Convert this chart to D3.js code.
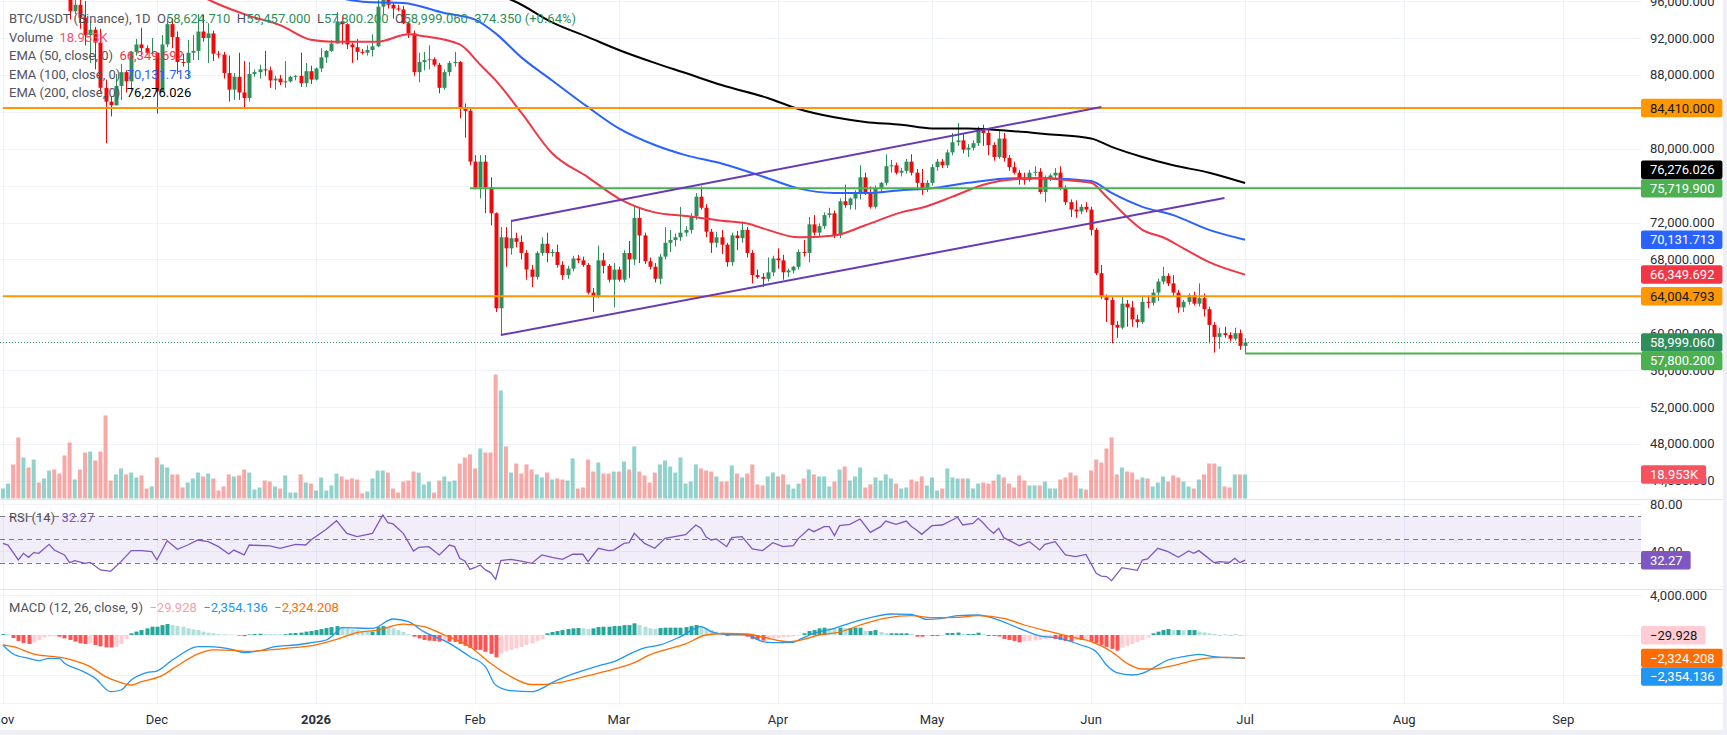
<!DOCTYPE html>
<html><head><meta charset="utf-8">
<script src="https://cdn.jsdelivr.net/npm/d3@7"></script>
<style>
html,body{margin:0;padding:0;background:#fff;overflow:hidden;}
svg{display:block;font-family:Roboto,"Noto Sans",Arial,sans-serif;}
text{white-space:pre;}
</style></head><body>
<svg id="chart" width="1727" height="735"></svg>
<script>
// ===================== DATA =====================
const symbolTitle = "BTC/USDT (Binance), 1D";
const firstDay = "2025-11-01";   // one candle per day from here
// daily candles [open, high, low, close] in thousands of USDT
const candlesNov = [[109.6,110.6,109.4,110.1],[110.1,111.2,109.0,110.6],[110.6,110.8,105.3,106.5],[106.5,107.3,98.9,101.5],[101.5,104.5,98.9,103.9],[103.9,104.2,100.3,101.3],[101.3,104.0,99.2,103.3],[103.3,103.4,101.4,102.3],[102.3,105.0,101.3,104.7],[104.7,106.7,104.3,106.0],[106.0,107.5,102.5,103.0],[103.0,105.3,100.8,101.6],[101.6,104.0,98.0,99.7],[99.7,99.9,94.0,94.9],[94.9,96.9,94.6,95.6],[95.6,96.6,93.0,94.2],[94.2,96.0,91.2,92.3],[92.3,93.8,89.3,92.9],[92.9,93.2,88.6,91.5],[91.5,93.0,86.1,86.6],[86.6,87.5,80.6,85.1],[85.1,85.6,83.5,84.7],[84.7,88.1,84.7,86.8],[86.8,89.2,85.3,88.3],[88.3,88.5,86.1,87.3],[87.3,90.6,86.3,90.5],[90.5,91.9,90.1,91.3],[91.3,93.1,90.2,90.9],[90.9,91.2,90.2,90.4],[90.4,92.0,90.3,90.4]];
const candlesDec = [[90.4,90.4,83.8,86.2],[86.2,92.3,86.2,91.3],[91.3,94.1,91.0,93.5],[93.5,94.1,90.9,92.1],[92.1,92.7,88.1,89.4],[89.4,90.3,88.9,89.3],[89.3,91.8,87.7,90.4],[90.4,92.3,89.6,90.6],[90.6,94.6,89.6,92.7],[92.7,94.5,91.6,92.0],[92.0,93.6,89.3,92.5],[92.5,92.8,89.5,90.3],[90.3,90.6,89.8,90.2],[90.2,90.5,87.6,88.2],[88.2,90.1,85.1,86.4],[86.4,88.2,85.3,87.8],[87.8,90.4,85.3,86.1],[86.1,89.5,84.4,85.5],[85.5,89.4,85.1,88.1],[88.1,88.6,87.8,88.3],[88.3,89.1,87.6,88.6],[88.6,90.6,87.9,88.5],[88.5,88.9,86.6,87.4],[87.4,87.9,86.4,87.6],[87.6,88.0,86.9,87.2],[87.2,89.5,86.6,87.3],[87.3,87.9,87.2,87.8],[87.8,88.0,87.4,87.9],[87.9,90.4,86.7,87.1],[87.1,89.3,86.7,88.4],[88.4,89.0,87.0,87.5]];
const candlesJan = [[87.5,88.8,87.4,88.7],[88.7,90.9,88.3,89.9],[89.9,90.7,89.3,90.6],[90.6,91.8,90.5,91.4],[91.4,94.8,91.4,93.8],[93.8,94.4,91.3,93.5],[93.5,93.6,90.8,91.3],[91.3,91.5,89.3,91.0],[91.0,91.9,89.6,90.5],[90.5,90.8,90.2,90.4],[90.4,91.2,90.1,90.7],[90.7,92.4,90.0,91.1],[91.1,96.4,91.0,95.4],[95.4,97.9,94.5,97.0],[97.0,97.6,95.2,95.6],[95.6,95.9,94.1,95.2],[95.2,95.6,94.9,95.1],[95.1,95.5,93.5,93.6],[93.6,93.8,92.0,92.5],[92.5,92.8,87.9,88.3],[88.3,90.4,87.2,89.4],[89.4,90.5,88.5,89.6],[89.6,91.2,88.6,89.7],[89.7,89.9,88.9,89.1],[89.1,89.3,86.0,86.6],[86.6,88.6,86.4,88.3],[88.3,89.5,87.9,89.3],[89.3,90.5,88.9,89.4],[89.4,89.5,83.3,84.4],[84.4,84.9,81.2,84.1],[84.1,84.4,78.2,78.6]];
const candlesFeb = [[78.6,79.3,75.6,75.8],[75.8,79.3,74.6,78.6],[78.6,79.3,73.0,75.8],[75.8,76.9,71.7,73.0],[73.0,73.1,62.3,62.7],[62.7,71.5,59.8,70.4],[70.4,71.5,67.2,69.2],[69.2,72.3,68.5,70.3],[70.3,70.9,69.3,69.9],[69.9,70.6,68.0,68.7],[68.7,69.0,65.8,66.9],[66.9,67.4,65.0,66.1],[66.1,68.9,65.8,68.7],[68.7,70.4,68.4,69.7],[69.7,70.9,67.7,68.7],[68.7,69.1,68.3,68.8],[68.8,69.6,67.1,67.4],[67.4,67.8,65.8,66.3],[66.3,67.3,65.9,67.0],[67.0,68.4,66.7,68.1],[68.1,68.5,67.6,67.9],[67.9,68.3,67.2,67.4],[67.4,67.6,64.2,64.4],[64.4,64.9,62.3,64.0],[64.0,69.5,63.8,67.9],[67.9,68.7,66.5,67.3],[67.3,67.5,65.5,65.8],[65.8,67.6,62.8,66.9]];
const candlesMar = [[66.9,67.2,65.6,65.8],[65.8,69.0,65.5,68.7],[68.7,70.0,66.0,68.0],[68.0,73.9,67.4,72.5],[72.5,73.6,67.6,70.6],[70.6,70.9,67.5,67.8],[67.8,68.2,66.9,67.2],[67.2,67.6,65.5,65.9],[65.9,68.6,65.3,68.3],[68.3,71.5,68.0,69.8],[69.8,71.2,68.8,70.1],[70.1,70.8,69.4,70.4],[70.4,73.7,70.0,70.9],[70.9,71.6,70.5,71.2],[71.2,73.0,70.8,72.7],[72.7,75.2,72.3,74.8],[74.8,75.9,73.4,73.6],[73.6,74.0,70.4,71.0],[71.0,71.3,68.7,69.8],[69.8,71.0,69.3,70.4],[70.4,71.2,68.6,69.6],[69.6,69.8,67.2,67.7],[67.7,70.9,67.3,70.6],[70.6,71.1,69.0,70.3],[70.3,72.1,69.8,71.2],[71.2,71.5,68.2,68.7],[68.7,69.0,65.4,66.3],[66.3,66.9,65.9,66.1],[66.1,66.5,65.0,65.9],[65.9,68.2,65.6,66.6],[66.6,68.4,66.2,68.1]];
const candlesApr = [[68.1,69.2,67.0,67.9],[67.9,68.5,65.8,66.6],[66.6,67.0,66.1,66.8],[66.8,67.3,66.5,67.2],[67.2,69.1,66.9,68.8],[68.8,70.1,68.3,68.7],[68.7,72.6,67.7,71.8],[71.8,72.8,70.6,70.9],[70.9,71.9,70.4,71.6],[71.6,73.1,71.3,72.8],[72.8,73.6,72.5,73.0],[73.0,73.3,70.3,70.6],[70.6,74.6,70.3,74.3],[74.3,76.1,73.6,73.9],[73.9,74.7,73.4,74.6],[74.6,75.5,73.4,75.3],[75.3,78.2,74.5,76.9],[76.9,77.4,75.0,75.3],[75.3,75.9,73.5,73.7],[73.7,76.0,73.5,75.7],[75.7,76.4,75.3,76.3],[76.3,79.4,76.0,78.1],[78.1,78.8,77.4,78.2],[78.2,78.5,77.2,77.4],[77.4,77.9,77.0,77.6],[77.6,78.9,77.3,78.6],[78.6,79.4,77.1,77.4],[77.4,77.8,75.5,76.3],[76.3,77.8,75.0,75.7],[75.7,76.6,75.3,76.3]];
const candlesMay = [[76.3,78.3,76.0,78.0],[78.0,78.9,77.6,78.6],[78.6,78.9,77.9,78.2],[78.2,79.9,77.9,79.6],[79.6,81.7,79.3,80.7],[80.7,82.8,80.3,80.9],[80.9,81.6,79.5,79.9],[79.9,80.5,79.1,80.1],[80.1,80.9,79.8,80.6],[80.6,82.4,80.3,82.0],[82.0,82.6,80.3,81.7],[81.7,82.0,79.3,80.4],[80.4,80.7,78.7,79.1],[79.1,82.0,78.9,81.1],[81.1,81.7,78.6,79.0],[79.0,79.3,77.6,78.0],[78.0,78.6,77.2,77.4],[77.4,77.7,76.1,76.8],[76.8,77.4,76.1,76.6],[76.6,77.7,76.4,77.4],[77.4,78.1,77.0,77.5],[77.5,77.9,75.1,75.3],[75.3,77.1,74.2,76.8],[76.8,77.3,76.5,77.1],[77.1,77.9,76.8,77.4],[77.4,78.1,75.5,75.7],[75.7,76.0,73.9,74.2],[74.2,74.5,72.6,73.4],[73.4,74.4,72.5,73.2],[73.2,74.0,72.9,73.7],[73.7,74.2,73.1,73.4]];
const candlesJun = [[73.4,73.7,70.6,71.2],[71.2,71.4,66.3,66.5],[66.5,67.4,63.7,63.9],[63.9,64.2,61.2,63.6],[63.6,63.9,58.9,60.9],[60.9,61.3,59.5,60.6],[60.6,64.0,60.4,63.2],[63.2,63.6,60.7,62.8],[62.8,63.5,60.7,61.5],[61.5,62.0,60.6,61.2],[61.2,64.0,61.0,63.4],[63.4,64.1,62.7,63.3],[63.3,64.8,63.0,64.4],[64.4,65.9,63.5,65.6],[65.6,67.2,65.3,66.2],[66.2,66.5,65.1,65.4],[65.4,66.3,64.0,64.4],[64.4,64.7,62.2,62.8],[62.8,63.6,62.3,63.4],[63.4,64.3,63.1,64.1],[64.1,64.5,63.0,63.2],[63.2,65.4,62.9,63.8],[63.8,64.3,61.8,62.6],[62.6,62.9,58.9,60.9],[60.9,61.2,57.9,59.6],[59.6,60.6,58.3,60.0],[60.0,60.7,59.5,59.8],[59.8,60.1,59.1,59.4],[59.4,60.6,59.2,60.0],[60.0,60.4,58.2,58.62471]];
const candlesJul = [[58.62471,59.457,57.8002,58.99906]];

// daily volume, thousands of BTC
const volNov = [7.9,11.8,26.9,48.2,32.4,24.5,30.8,12.6,15.8,22.1,22.9,19.7,34.0,44.2,15.0,22.9,36.3,37.1,30.0,37.1,65.6,14.2,19.0,23.7,19.0,20.5,16.6,18.2,7.9,9.5];
const volDec = [32.4,26.9,24.5,19.0,19.0,8.7,12.6,15.8,20.5,17.4,19.7,15.8,6.3,9.5,19.0,17.4,18.2,22.9,20.5,7.1,8.7,14.2,13.4,9.5,7.9,18.2,4.7,4.7,19.0,12.6,11.8];
const volJan = [6.3,16.6,6.3,10.3,19.7,17.4,15.0,15.8,15.0,4.0,5.5,15.8,22.1,22.1,20.5,7.9,4.7,13.4,14.2,21.3,20.5,11.1,13.4,4.7,14.2,17.4,13.4,14.2,27.6,32.4,34.8];
const volFeb = [23.7,39.5,36.3,36.3,97.9,85.3,41.1,20.5,27.6,19.7,26.9,22.9,19.0,16.6,20.5,15.0,15.8,15.0,14.2,31.6,7.9,8.7,30.8,21.3,28.4,19.7,19.7,21.3];
const volMar = [21.3,29.2,22.9,41.1,21.3,18.2,12.6,20.5,26.9,30.0,25.3,20.5,32.4,11.8,13.4,26.9,23.7,22.1,21.3,17.4,13.4,13.4,26.1,19.7,16.6,19.7,26.9,11.1,10.3,17.4,20.5];
const volApr = [17.4,19.0,11.1,7.9,11.8,15.8,22.9,19.0,17.4,17.4,9.5,13.4,22.9,25.3,14.2,17.4,24.5,8.7,11.1,16.6,14.2,19.0,15.8,11.8,7.9,8.7,15.0,13.4,17.4,10.3];
const volMay = [16.6,6.3,7.9,23.7,16.6,15.8,15.8,15.8,7.9,11.8,12.6,11.8,14.2,19.0,16.6,11.8,8.7,18.2,14.2,10.3,10.3,10.3,13.4,7.9,7.9,15.0,16.6,20.5,18.2,7.9,7.1];
const volJun = [22.1,30.8,28.4,39.5,48.2,19.0,24.5,21.3,20.5,15.0,16.6,15.8,9.5,12.6,17.4,13.4,18.2,16.6,13.4,9.5,7.9,15.0,19.0,27.6,27.6,25.3,9.5,8.7,19.0,19.0];
const volJul = [18.953];

// moving averages [date, value]
const ema50 = [["2025-11-01",111000],["2025-11-20",104500],["2025-12-12",95900],["2025-12-19",94400],["2025-12-25",93400],["2025-12-31",91800],["2026-01-04",91600],["2026-01-13",91600],["2026-01-19",92400],["2026-01-22",92200],["2026-01-29",91300],["2026-02-02",89100],["2026-02-05",87400],["2026-02-10",83900],["2026-02-16",79500],["2026-02-23",76900],["2026-03-01",74600],["2026-03-08",73100],["2026-03-14",72700],["2026-03-21",72200],["2026-03-26",71900],["2026-03-30",71200],["2026-04-05",70400],["2026-04-12",70600],["2026-04-18",71700],["2026-04-25",73100],["2026-04-29",73600],["2026-05-05",74800],["2026-05-11",76100],["2026-05-17",76700],["2026-05-23",76800],["2026-05-27",76600],["2026-06-01",76300],["2026-06-04",74800],["2026-06-08",72600],["2026-06-11",71200],["2026-06-15",70400],["2026-06-19",69200],["2026-06-24",67700],["2026-07-01",66349.692]];
const ema100 = [["2025-11-01",108500],["2025-12-01",101500],["2025-12-31",97000],["2026-01-11",95900],["2026-01-18",95800],["2026-01-26",94700],["2026-02-01",94000],["2026-02-05",92500],["2026-02-10",89900],["2026-02-16",87400],["2026-02-23",84500],["2026-03-01",82200],["2026-03-08",80400],["2026-03-14",79300],["2026-03-21",78400],["2026-03-30",76800],["2026-04-05",75700],["2026-04-12",75200],["2026-04-18",75200],["2026-04-25",75500],["2026-05-01",75700],["2026-05-08",76300],["2026-05-17",76800],["2026-05-23",76800],["2026-06-01",76500],["2026-06-05",75200],["2026-06-11",73700],["2026-06-17",72800],["2026-06-24",71200],["2026-07-01",70131.713]];
const ema200 = [["2025-11-01",108000],["2025-12-01",105000],["2026-01-01",101000],["2026-01-25",98000],["2026-02-09",95900],["2026-02-16",93700],["2026-02-23",92100],["2026-03-01",90700],["2026-03-08",89300],["2026-03-14",88200],["2026-03-21",86900],["2026-03-30",85500],["2026-04-05",84300],["2026-04-12",83400],["2026-04-18",82900],["2026-04-25",82600],["2026-05-01",82200],["2026-05-08",82200],["2026-05-17",81900],["2026-05-23",81600],["2026-06-01",81100],["2026-06-05",80200],["2026-06-11",79100],["2026-06-17",78200],["2026-06-24",77400],["2026-07-01",76276.026]];

// drawings
const levelLines = [
  {price:84410, from:"2025-11-01", color:"#ff9800", text:"#131722"},
  {price:75719.9, from:"2026-01-31", color:"#4caf50", text:"#ffffff"},
  {price:64004.793, from:"2025-11-01", color:"#ff9800", text:"#131722"},
  {price:57800.2, from:"2026-07-01", color:"#4caf50", text:"#ffffff"}
];
const channelUpper = [["2026-02-08",72160],["2026-06-03",84520]];
const channelLower = [["2026-02-06",59800],["2026-06-27",74660]];

// RSI(14)
const rsiPts = [["2025-11-01",46.6],["2025-11-02",45.2],["2025-11-04",32.4],["2025-11-05",38.1],["2025-11-06",34.7],["2025-11-07",38.7],["2025-11-08",38.1],["2025-11-10",45.8],["2025-11-11",40.9],["2025-11-13",36.7],["2025-11-14",30.1],["2025-11-15",31.8],["2025-11-17",29.5],["2025-11-18",30.4],["2025-11-20",23.9],["2025-11-22",22.7],["2025-11-24",31.0],["2025-11-26",40.4],["2025-11-28",40.4],["2025-11-30",39.5],
["2025-12-01",32.4],["2025-12-03",48.9],["2025-12-05",41.5],["2025-12-07",45.2],["2025-12-09",49.5],["2025-12-11",48.1],["2025-12-13",43.8],["2025-12-15",37.5],["2025-12-16",40.9],["2025-12-18",36.7],["2025-12-19",45.2],["2025-12-23",44.4],["2025-12-25",42.4],["2025-12-28",45.8],["2025-12-30",45.2],["2025-12-31",49.5],
["2026-01-03",58.6],["2026-01-05",66.0],["2026-01-07",55.2],["2026-01-09",52.4],["2026-01-12",55.2],["2026-01-14",70.9],["2026-01-15",64.3],["2026-01-16",63.2],["2026-01-18",55.2],["2026-01-20",40.1],["2026-01-21",43.2],["2026-01-23",43.8],["2026-01-25",36.7],["2026-01-27",45.2],["2026-01-28",43.8],["2026-01-29",33.8],["2026-01-30",31.5],["2026-01-31",24.4],
["2026-02-01",26.0],["2026-02-02",28.1],["2026-02-03",23.9],["2026-02-04",21.6],["2026-02-05",15.9],["2026-02-06",31.8],["2026-02-08",33.0],["2026-02-10",31.5],["2026-02-12",29.5],["2026-02-14",36.7],["2026-02-16",34.7],["2026-02-18",33.0],["2026-02-20",37.3],["2026-02-22",37.3],["2026-02-23",31.0],["2026-02-25",42.4],["2026-02-27",40.4],["2026-02-28",40.9],
["2026-03-02",46.6],["2026-03-03",47.2],["2026-03-04",55.2],["2026-03-06",46.6],["2026-03-08",42.4],["2026-03-10",50.9],["2026-03-14",54.0],["2026-03-16",62.3],["2026-03-17",59.5],["2026-03-18",52.0],["2026-03-19",49.5],["2026-03-20",50.4],["2026-03-22",43.8],["2026-03-23",51.5],["2026-03-25",52.4],["2026-03-27",41.8],["2026-03-29",40.4],["2026-03-31",47.2],
["2026-04-02",43.8],["2026-04-04",44.6],["2026-04-05",50.9],["2026-04-07",58.9],["2026-04-08",56.6],["2026-04-10",60.9],["2026-04-11",60.9],["2026-04-12",53.2],["2026-04-13",61.7],["2026-04-15",62.9],["2026-04-17",67.4],["2026-04-19",56.0],["2026-04-21",60.9],["2026-04-22",65.7],["2026-04-24",62.9],["2026-04-26",65.7],["2026-04-27",61.0],["2026-04-28",58.0],["2026-04-29",54.3],
["2026-05-01",61.7],["2026-05-03",62.3],["2026-05-06",68.9],["2026-05-07",62.3],["2026-05-09",63.7],["2026-05-10",68.0],["2026-05-11",64.0],["2026-05-12",59.0],["2026-05-13",55.2],["2026-05-14",59.5],["2026-05-15",51.5],["2026-05-18",44.6],["2026-05-20",48.1],["2026-05-22",41.0],["2026-05-23",45.8],["2026-05-25",48.1],["2026-05-27",36.7],["2026-05-29",35.3],["2026-05-31",37.2],
["2026-06-02",21.0],["2026-06-03",18.7],["2026-06-04",18.2],["2026-06-05",14.7],["2026-06-07",25.8],["2026-06-10",23.6],["2026-06-11",32.4],["2026-06-12",33.3],["2026-06-14",42.4],["2026-06-16",39.5],["2026-06-18",34.7],["2026-06-20",40.1],["2026-06-21",38.1],["2026-06-22",40.4],["2026-06-25",30.1],["2026-06-26",31.0],["2026-06-28",30.4],["2026-06-29",33.8],["2026-06-30",30.1],["2026-07-01",32.27]];

// MACD (12, 26, close, 9)
const macdPts = [["2025-11-01",-1010],["2025-11-03",-1920],["2025-11-06",-2360],["2025-11-08",-2590],["2025-11-10",-2360],["2025-11-12",-2390],["2025-11-13",-2860],["2025-11-16",-3535],["2025-11-19",-4380],["2025-11-22",-5725],["2025-11-24",-5555],["2025-11-26",-4545],["2025-11-29",-3805],
["2025-12-01",-3640],["2025-12-04",-2525],["2025-12-05",-2190],["2025-12-09",-1180],["2025-12-11",-1180],["2025-12-16",-1515],["2025-12-18",-1785],["2025-12-21",-1585],["2025-12-24",-1180],["2025-12-28",-1010],["2025-12-31",-775],
["2026-01-03",-505],["2026-01-05",300],["2026-01-06",740],["2026-01-12",670],["2026-01-16",1615],["2026-01-19",1345],["2026-01-22",335],["2026-01-27",-845],["2026-01-31",-2190],
["2026-02-03",-3200],["2026-02-05",-5050],["2026-02-08",-5625],["2026-02-12",-5725],["2026-02-14",-5390],["2026-02-16",-4815],["2026-02-21",-3770],["2026-02-25",-3130],["2026-02-28",-2695],
["2026-03-04",-1700],["2026-03-06",-1300],["2026-03-09",-1010],["2026-03-13",-170],["2026-03-17",840],["2026-03-19",335],["2026-03-22",50],["2026-03-26",0],["2026-03-29",-670],["2026-03-31",-775],
["2026-04-04",-740],["2026-04-05",-505],["2026-04-08",170],["2026-04-12",670],["2026-04-16",1345],["2026-04-19",1750],["2026-04-23",2120],["2026-04-27",2085],["2026-04-30",1580],
["2026-05-03",1685],["2026-05-06",1950],["2026-05-10",2020],["2026-05-13",1685],["2026-05-18",670],["2026-05-22",-100],["2026-05-26",-335],["2026-05-30",-1010],
["2026-06-02",-1685],["2026-06-04",-3030],["2026-06-06",-3800],["2026-06-09",-4040],["2026-06-11",-3870],["2026-06-13",-3365],["2026-06-16",-2525],["2026-06-19",-2190],["2026-06-22",-1950],["2026-06-25",-2190],["2026-06-28",-2290],["2026-07-01",-2354.136]];
const signalPts = [["2025-11-01",-1010],["2025-11-03",-1180],["2025-11-07",-1920],["2025-11-11",-2190],["2025-11-14",-2460],["2025-11-18",-3200],["2025-11-21",-4210],["2025-11-24",-4815],["2025-11-26",-5050],["2025-11-28",-4715],
["2025-12-02",-4100],["2025-12-05",-3100],["2025-12-09",-1900],["2025-12-12",-1500],["2025-12-16",-1550],["2025-12-19",-1650],["2025-12-23",-1500],["2025-12-27",-1300],["2025-12-31",-1100],
["2026-01-05",-450],["2026-01-09",250],["2026-01-13",500],["2026-01-18",1100],["2026-01-22",840],["2026-01-26",0],["2026-01-31",-1180],
["2026-02-04",-2860],["2026-02-08",-4210],["2026-02-12",-5000],["2026-02-14",-5000],["2026-02-18",-4750],["2026-02-23",-4100],["2026-02-28",-3450],
["2026-03-04",-2800],["2026-03-07",-2000],["2026-03-10",-1500],["2026-03-14",-900],["2026-03-18",0],["2026-03-22",150],["2026-03-26",100],["2026-03-29",-200],
["2026-04-03",-670],["2026-04-06",-440],["2026-04-09",0],["2026-04-13",300],["2026-04-18",1180],["2026-04-22",1700],["2026-04-27",1950],
["2026-05-01",1750],["2026-05-06",1785],["2026-05-10",1950],["2026-05-15",1685],["2026-05-19",1010],["2026-05-24",335],["2026-05-28",-170],
["2026-06-01",-670],["2026-06-05",-1685],["2026-06-08",-2860],["2026-06-11",-3435],["2026-06-13",-3435],["2026-06-18",-2960],["2026-06-22",-2460],["2026-06-25",-2290],["2026-06-28",-2255],["2026-07-01",-2324.208]];
// daily MACD histogram
const histNov = [100,80,-300,-600,-800,-900,-750,-500,-250,-150,-120,-170,-340,-500,-670,-840,-900,-840,-1000,-1150,-1250,-1250,-1180,-900,-400,170,340,500,670,840];
const histDec = [840,1000,1110,1000,900,840,670,570,500,340,235,170,100,70,40,30,-60,-120,60,100,130,100,90,80,70,80,170,200,240,340,400];
const histJan = [500,600,700,800,900,840,670,570,500,400,340,340,800,900,800,670,500,300,100,-170,-340,-500,-570,-600,-670,-640,-670,-700,-900,-1100,-1300];
const histFeb = [-1500,-1500,-1700,-1900,-2250,-1850,-1650,-1500,-1350,-1200,-1000,-850,-600,-400,170,300,400,500,600,670,700,670,600,670,800,840,840,900];
const histMar = [900,1000,1000,1180,1000,840,670,600,700,740,740,740,740,800,900,1010,840,670,500,340,270,-100,170,170,150,-170,-400,-500,-570,-450,-340];
const histApr = [-300,-250,-200,-150,-70,170,400,500,670,740,700,670,740,700,700,740,740,400,400,500,300,170,170,170,170,170,120,-170,-170,-100];
const histMay = [-100,-100,-80,200,200,250,100,100,100,235,70,-100,-100,-150,-400,-500,-600,-740,-670,-600,-550,-500,-400,-340,-400,-500,-600,-670,-500,-500,-450];
const histJun = [-670,-850,-1000,-1200,-1400,-1580,-1280,-1100,-900,-700,-500,-270,170,340,500,600,500,500,470,500,500,340,270,170,100,-30,30,-30,30,-30];
const histJul = [-29.928];

// axis ticks / labels
const priceTicks = [44000,48000,52000,56000,60000,64000,68000,72000,76000,80000,84000,88000,92000,96000];
const rsiTicks = [80,40];
const rsiLevels = [70,50,30];
const macdTicks = [4000,0,-4000];
const monthTicks = ["2025-11-01","2025-12-01","2026-01-01","2026-02-01","2026-03-01","2026-04-01","2026-05-01","2026-06-01","2026-07-01","2026-08-01","2026-09-01"];
const monthLabels = ["Nov","Dec","2026","Feb","Mar","Apr","May","Jun","Jul","Aug","Sep"];
const lastBar = {open:58624.71, high:59457, low:57800.2, close:58999.06, change:374.35, pct:0.64, volume:18953};
const emaLast = {e50:66349.692, e100:70131.713, e200:76276.026};
const rsiLast = 32.27;
const macdLast = {hist:-29.928, macd:-2354.136, signal:-2324.208};

// ===================== DRAW =====================
const W = 1727, H = 735, plotR = 1641;
const UP = "#2f8f5b", DOWN = "#ee0a0a";
const VUP = "rgba(38,166,154,0.5)", VDOWN = "rgba(239,83,80,0.5)";
const GRID = "#f0f3fa", SEP = "#e0e3eb", AXT = "#2a2e39", LEG = "#50535e";
const parse = d3.utcParse("%Y-%m-%d");
const start = parse(firstDay);

const ohlc = [].concat(candlesNov,candlesDec,candlesJan,candlesFeb,candlesMar,candlesApr,candlesMay,candlesJun,candlesJul);
const vols = [].concat(volNov,volDec,volJan,volFeb,volMar,volApr,volMay,volJun,volJul);
const hist = [].concat(histNov,histDec,histJan,histFeb,histMar,histApr,histMay,histJun,histJul);
const bars = ohlc.map((c,i)=>({date:d3.utcDay.offset(start,i), o:c[0]*1000, h:c[1]*1000, l:c[2]*1000, c:c[3]*1000, v:vols[i]*1000, hist:hist[i]}));

const x = d3.scaleUtc().domain([parse("2025-11-01"), parse("2026-09-01")]).range([2.9, 1563.3]);
const yP = d3.scaleLinear().domain([60000,92000]).range([333.2,38]);
const yV = d3.scaleLinear().domain([0,18953]).range([498.5,474.5]);
const yR = d3.scaleLinear().domain([30,70]).range([562.8,516]);
const yM = d3.scaleLinear().domain([-4000,4000]).range([674.6,595.4]);

const svg = d3.select("#chart");
svg.append("rect").attr("width",W).attr("height",H).attr("fill","#fff");
const defs = svg.append("defs");
function clip(id,y0,y1){defs.append("clipPath").attr("id",id).append("rect").attr("x",0).attr("y",y0).attr("width",plotR).attr("height",y1-y0);}
clip("cp",0,499); clip("cr",499.5,589); clip("cm",589.5,703);

// grid
const g = svg.append("g");
monthTicks.forEach(m=>{
  const xx = Math.round(x(parse(m)))+0.5;
  g.append("line").attr("x1",xx).attr("x2",xx).attr("y1",0).attr("y2",703).attr("stroke",GRID).attr("stroke-width",1);
});
priceTicks.forEach(p=>{
  const yy = Math.round(yP(p))+0.5;
  if(yy>0 && yy<499) g.append("line").attr("x1",0).attr("x2",plotR).attr("y1",yy).attr("y2",yy).attr("stroke",GRID);
});
rsiTicks.forEach(v=>{const yy=Math.round(yR(v))+0.5; g.append("line").attr("x1",0).attr("x2",plotR).attr("y1",yy).attr("y2",yy).attr("stroke",GRID);});
macdTicks.forEach(v=>{const yy=Math.round(yM(v))+0.5; g.append("line").attr("x1",0).attr("x2",plotR).attr("y1",yy).attr("y2",yy).attr("stroke",GRID);});

// ---------- price pane ----------
const pp = svg.append("g").attr("clip-path","url(#cp)");
pp.selectAll("rect.vol").data(bars).join("rect").attr("class","vol")
  .attr("x",d=>x(d.date)-2).attr("width",4)
  .attr("y",d=>yV(d.v)).attr("height",d=>yV(0)-yV(d.v))
  .attr("fill",d=>d.c>=d.o?VUP:VDOWN);
pp.selectAll("line.wick").data(bars).join("line").attr("class","wick")
  .attr("x1",d=>Math.round(x(d.date))+0.5).attr("x2",d=>Math.round(x(d.date))+0.5)
  .attr("y1",d=>yP(d.h)).attr("y2",d=>yP(d.l))
  .attr("stroke",d=>d.c>=d.o?UP:DOWN).attr("stroke-width",1);
pp.selectAll("rect.body").data(bars).join("rect").attr("class","body")
  .attr("x",d=>Math.round(x(d.date))-1.5).attr("width",4)
  .attr("y",d=>Math.min(yP(d.o),yP(d.c)))
  .attr("height",d=>Math.max(1,Math.abs(yP(d.o)-yP(d.c))))
  .attr("fill",d=>d.c>=d.o?UP:DOWN);
const lineP = d3.line().x(d=>x(parse(d[0]))).y(d=>yP(d[1])).curve(d3.curveMonotoneX);
pp.append("path").attr("d",lineP(ema200)).attr("fill","none").attr("stroke","#000").attr("stroke-width",2);
pp.append("path").attr("d",lineP(ema100)).attr("fill","none").attr("stroke","#2962ff").attr("stroke-width",2);
pp.append("path").attr("d",lineP(ema50)).attr("fill","none").attr("stroke","#f23645").attr("stroke-width",2);
levelLines.forEach(l=>{
  const yy = yP(l.price);
  pp.append("line").attr("x1",Math.max(0,x(parse(l.from)))).attr("x2",plotR).attr("y1",yy).attr("y2",yy)
    .attr("stroke",l.color).attr("stroke-width",2);
});
const lineS = d3.line().x(d=>x(parse(d[0]))).y(d=>yP(d[1]));
[channelUpper,channelLower].forEach(c=>pp.append("path").attr("d",lineS(c)).attr("fill","none").attr("stroke","#673ab7").attr("stroke-width",2));
const yLast = Math.round(yP(lastBar.close))+0.5;
pp.append("line").attr("x1",0).attr("x2",plotR).attr("y1",yLast).attr("y2",yLast).attr("stroke",UP).attr("stroke-width",1).attr("stroke-dasharray","1,2");

// ---------- RSI pane ----------
const rp = svg.append("g").attr("clip-path","url(#cr)");
rp.append("rect").attr("x",0).attr("width",plotR).attr("y",yR(70)).attr("height",yR(30)-yR(70)).attr("fill","rgba(126,87,194,0.1)");
rsiLevels.forEach(v=>{const yy=Math.round(yR(v))+0.5; rp.append("line").attr("x1",0).attr("x2",plotR).attr("y1",yy).attr("y2",yy).attr("stroke","#787b86").attr("stroke-dasharray","5,4");});
const lineR = d3.line().x(d=>x(parse(d[0]))).y(d=>yR(d[1]));
rp.append("path").attr("d",lineR(rsiPts)).attr("fill","none").attr("stroke","#7e57c2").attr("stroke-width",1.3);

// ---------- MACD pane ----------
const mp = svg.append("g").attr("clip-path","url(#cm)");
mp.selectAll("rect.h").data(bars).join("rect").attr("class","h")
  .attr("x",d=>Math.round(x(d.date))-1.5).attr("width",4)
  .attr("y",d=>Math.min(yM(0),yM(d.hist))).attr("height",d=>Math.abs(yM(d.hist)-yM(0)))
  .attr("fill",(d,i)=>{const p=i>0?bars[i-1].hist:d.hist; return d.hist>=0?(d.hist>=p?"#26a69a":"#b2dfdb"):(d.hist<=p?"#ff5252":"#ffcdd2");});
const lineM = d3.line().x(d=>x(parse(d[0]))).y(d=>yM(d[1])).curve(d3.curveMonotoneX);
mp.append("path").attr("d",lineM(macdPts)).attr("fill","none").attr("stroke","#2196f3").attr("stroke-width",1.3);
mp.append("path").attr("d",lineM(signalPts)).attr("fill","none").attr("stroke","#ff6d00").attr("stroke-width",1.3);

// separators
[499.5,589.5].forEach(yy=>svg.append("line").attr("x1",0).attr("x2",W).attr("y1",yy).attr("y2",yy).attr("stroke",SEP));
svg.append("line").attr("x1",0).attr("x2",W).attr("y1",703.5).attr("y2",703.5).attr("stroke","#f0f3fa");
svg.append("rect").attr("x",0).attr("y",730).attr("width",W).attr("height",5).attr("fill","#eef0f5");
svg.append("rect").attr("x",1723).attr("y",0).attr("width",4).attr("height",H).attr("fill","#eef0f5");

// ---------- value boxes (computed first so hidden tick labels can be skipped) ----------
const f3 = d3.format(",.3f");
function resolve(list){
  list.sort((a,b)=>a.y-b.y);
  const h=18.5;
  for(let i=1;i<list.length;i++){
    if(list[i].y-list[i-1].y<h){
      if(list[i].pr<list[i-1].pr) list[i].y=list[i-1].y+h; else list[i-1].y=list[i].y-h;
    }
  }
  return list;
}
const priceBoxes = resolve([
  ...levelLines.map(l=>({y:yP(l.price), text:f3(l.price), bg:l.color, fg:l.text, pr:2})),
  {y:yP(emaLast.e200), text:f3(emaLast.e200), bg:"#000000", fg:"#fff", pr:1},
  {y:yP(emaLast.e100), text:f3(emaLast.e100), bg:"#2962ff", fg:"#fff", pr:1},
  {y:yP(emaLast.e50), text:f3(emaLast.e50), bg:"#f23645", fg:"#fff", pr:1},
  {y:yP(lastBar.close), text:f3(lastBar.close), bg:UP, fg:"#fff", pr:3}
]);
const otherBoxes = [
  {y:yV(lastBar.volume), text:d3.format(".3f")(lastBar.volume/1000)+"K", bg:"#f7525f", fg:"#fff"},
  {y:yR(rsiLast), text:d3.format(".2f")(rsiLast), bg:"#7e57c2", fg:"#fff"},
  ...resolve([
    {y:yM(macdLast.hist), text:f3(macdLast.hist), bg:"#ffcdd2", fg:"#131722", pr:3},
    {y:yM(macdLast.signal), text:f3(macdLast.signal), bg:"#ff6d00", fg:"#fff", pr:2},
    {y:yM(macdLast.macd), text:f3(macdLast.macd), bg:"#2196f3", fg:"#fff", pr:1}
  ])
];
const allBoxes = priceBoxes.concat(otherBoxes);
const hidden = yy => allBoxes.some(b=>Math.abs(b.y-yy)<5);

// ---------- axis labels ----------
const ax = svg.append("g").attr("font-size",13).attr("fill",AXT);
priceTicks.forEach(p=>{const yy=yP(p); if(yy<499 && !hidden(yy)) ax.append("text").attr("x",1650).attr("y",yy).attr("dy","0.35em").text(f3(p));});
rsiTicks.forEach(v=>{const yy=yR(v); if(!hidden(yy)) ax.append("text").attr("x",1650).attr("y",yy).attr("dy","0.35em").text(d3.format(".2f")(v));});
macdTicks.forEach(v=>{const yy=yM(v); if(!hidden(yy)) ax.append("text").attr("x",1650).attr("y",yy).attr("dy","0.35em").text(f3(v));});
monthTicks.forEach((m,i)=>ax.append("text").attr("x",x(parse(m))).attr("y",719).attr("dy","0.35em").attr("text-anchor","middle")
  .attr("font-weight",monthLabels[i]==="2026"?"bold":"normal").text(monthLabels[i]));

function box(l){
  const gg = svg.append("g");
  const t = gg.append("text").attr("x",1650).attr("y",l.y).attr("dy","0.35em").attr("font-size",13).attr("fill",l.fg).text(l.text);
  const w = t.node().getComputedTextLength();
  gg.insert("rect","text").attr("x",1641).attr("y",l.y-9.25).attr("width",w+17).attr("height",18.5).attr("rx",2).attr("fill",l.bg);
}
allBoxes.forEach(box);

// ---------- legends ----------
function legend(y, parts){
  const t = svg.append("text").attr("x",9).attr("y",y).attr("dy","0.35em").attr("font-size",13);
  parts.forEach(p=>t.append("tspan").attr("fill",p[1]).text(p[0]));
}
const LG = UP;
legend(18,[[symbolTitle+"  ",LEG],["O",LEG],[f3(lastBar.open)+"  ",LG],["H",LEG],[f3(lastBar.high)+"  ",LG],["L",LEG],[f3(lastBar.low)+"  ",LG],["C",LEG],[f3(lastBar.close)+"  ",LG],[d3.format(".3f")(lastBar.change)+" (+"+lastBar.pct.toFixed(2)+"%)",LG]]);
legend(37,[["Volume  ",LEG],[d3.format(".3f")(lastBar.volume/1000)+"K","#f7525f"]]);
legend(55.5,[["EMA (50, close, 0)  ",LEG],[f3(emaLast.e50),"#f23645"]]);
legend(74,[["EMA (100, close, 0)  ",LEG],[f3(emaLast.e100),"#2962ff"]]);
legend(92.5,[["EMA (200, close, 0)  ",LEG],[f3(emaLast.e200),"#000"]]);
legend(517,[["RSI (14)  ",LEG],[d3.format(".2f")(rsiLast),"#7e57c2"]]);
legend(607,[["MACD (12, 26, close, 9)  ",LEG],[f3(macdLast.hist)+"  ","#f7a1a8"],[f3(macdLast.macd)+"  ","#2196f3"],[f3(macdLast.signal),"#ff6d00"]]);
</script>
</body></html>
